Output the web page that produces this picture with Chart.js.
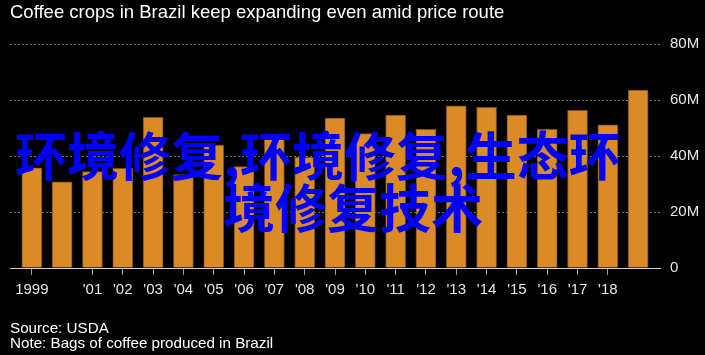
<!DOCTYPE html>
<html>
<head>
<meta charset="utf-8">
<script src="https://cdn.jsdelivr.net/npm/chart.js@4/dist/chart.umd.min.js"></script>
<style>
  html, body { margin: 0; padding: 0; background: #000; }
  #wrap { position: relative; width: 705px; height: 355px; overflow: hidden; background: #000; }
  canvas { position: absolute; left: 0; top: 0; }
  .t { position: absolute; white-space: nowrap; font-family: "Liberation Sans", Arial, sans-serif; }
  #title { left: 10px; top: 1px; font-size: 18.5px; line-height: 21px; color: #fff; }
  #foot { left: 10px; top: 321px; font-size: 15.2px; line-height: 14.5px; color: #fff; }
  .cjk { position: absolute; white-space: nowrap; font-family: "Noto Sans CJK SC", sans-serif; font-weight: bold; font-size: 52px; line-height: 52px; color: #0000ff; }
</style>
</head>
<body>
<div id="wrap">
  <canvas id="c" width="705" height="355"></canvas>
  <div class="t" id="title">Coffee crops in Brazil keep expanding even amid price route</div>
  <div class="t" id="foot">Source: USDA<br>Note: Bags of coffee produced in Brazil</div>
  <div class="cjk" id="w1" style="left:15px; top:128px;">环境修复,环境修复,生态环</div>
  <div class="cjk" id="w2" style="left:223px; top:180px;">境修复技术</div>
</div>
<script>
const years = [1999, 2000, 2001, 2002, 2003, 2004, 2005, 2006, 2007, 2008, 2009,
               2010, 2011, 2012, 2013, 2014, 2015, 2016, 2017, 2018, 2019];
const bagsMillions = [35.8, 30.8, 34.4, 35.6, 53.8, 33.4, 43.9, 36.2, 46.4, 39.5, 53.5,
                      48.0, 54.6, 49.5, 57.9, 57.4, 54.6, 49.5, 56.3, 51.1, 63.5];
const xTickYears = [1999, 2001, 2002, 2003, 2004, 2005, 2006, 2007, 2008, 2009,
                    2010, 2011, 2012, 2013, 2014, 2015, 2016, 2017, 2018];
const xTickLabels = ["1999", "'01", "'02", "'03", "'04", "'05", "'06", "'07", "'08", "'09",
                     "'10", "'11", "'12", "'13", "'14", "'15", "'16", "'17", "'18"];
const yTickValues = [0, 20, 40, 60, 80];
const yTickLabels = ["0", "20M", "40M", "60M", "80M"];

const tickFont = { family: "'Liberation Sans', Arial, sans-serif", size: 15 };

new Chart(document.getElementById('c'), {
  type: 'bar',
  data: {
    datasets: [{
      data: years.map((yr, i) => ({ x: yr, y: bagsMillions[i] })),
      backgroundColor: '#da8a27',
      borderColor: '#7a5020',
      borderWidth: 1,
      barThickness: 20
    }]
  },
  options: {
    responsive: false,
    animation: false,
    devicePixelRatio: 1,
    layout: { padding: { left: 10, top: 44, right: 0, bottom: 47 } },
    plugins: { legend: { display: false }, tooltip: { enabled: false }, title: { display: false } },
    scales: {
      x: {
        type: 'linear',
        min: 1998.28,
        max: 2019.72,
        offset: false,
        afterBuildTicks: s => { s.ticks = xTickYears.map(v => ({ value: v })); },
        afterFit: s => { s.height = 40; },
        ticks: {
          autoSkip: false, maxRotation: 0, minRotation: 0,
          color: '#e6e6e6', font: tickFont, padding: 6,
          callback: v => { const i = xTickYears.indexOf(v); return i >= 0 ? xTickLabels[i] : ''; }
        },
        grid: { drawOnChartArea: false, drawTicks: true, tickLength: 7, color: '#9a9a9a', offset: false },
        border: { display: true, color: '#cfcfcf', width: 1 }
      },
      y: {
        position: 'right',
        min: 0,
        max: 80,
        afterBuildTicks: s => { s.ticks = yTickValues.map(v => ({ value: v })); },
        afterFit: s => { s.width = 45; },
        ticks: {
          color: '#e6e6e6', font: tickFont, padding: 10,
          callback: v => { const i = yTickValues.indexOf(v); return i >= 0 ? yTickLabels[i] : ''; }
        },
        grid: { color: '#707070', lineWidth: 1, drawTicks: false },
        border: { display: false, dash: [2, 2] }
      }
    }
  }
});
</script>
</body>
</html>
